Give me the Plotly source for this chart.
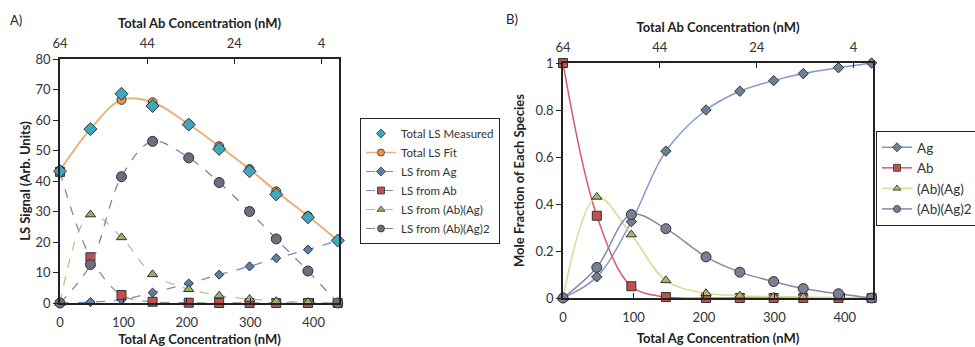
import plotly.graph_objects as go

# ---------------- data ----------------
ag_conc = [0, 48, 97, 146, 203, 251, 299, 341, 391, 438]
ab_ticks = [64, 44, 24, 4]

# Panel A: light-scattering signals
ls_measured = [43.2, 57.0, 68.6, 64.6, 58.5, 50.5, 43.2, 35.6, 28.1, 20.5]
ls_fit = [43.5, 57.0, 66.6, 65.8, 58.6, 51.4, 43.9, 36.6, 28.5, 20.5]
ls_ag = [0.0, 0.3, 1.1, 3.4, 6.4, 9.3, 12.0, 14.7, 17.5, 20.5]
ls_ab = [43.0, 15.0, 2.6, 0.4, 0.1, 0.0, 0.0, 0.0, 0.0, 0.0]
ls_abag = [0.0, 29.0, 21.5, 9.4, 4.5, 2.4, 1.3, 0.6, 0.3, 0.0]
ls_abag2 = [0.0, 12.6, 41.4, 53.0, 47.6, 39.5, 30.0, 21.0, 10.5, 0.0]

# Panel B: mole fractions
mf_ag = [0.0, 0.09, 0.325, 0.625, 0.80, 0.88, 0.925, 0.955, 0.98, 1.0]
mf_ab = [1.0, 0.35, 0.05, 0.004, 0.0, 0.0, 0.0, 0.0, 0.0, 0.0]
mf_abag = [0.0, 0.43, 0.27, 0.075, 0.02, 0.01, 0.006, 0.004, 0.002, 0.0]
mf_abag2 = [0.0, 0.13, 0.355, 0.295, 0.175, 0.11, 0.07, 0.04, 0.018, 0.0]

FONT = "Lato"
OUT = dict(color="#333333", width=1)

fig = go.Figure()


def series(x, y, name, legend, rank, line, marker, xa, ya, mode="lines+markers", legend_marker_size=7,
           legend_line=None):
    # real trace (not in legend)
    fig.add_trace(go.Scatter(x=x, y=y, name=name, mode=mode, line=line, marker=marker,
                             xaxis=xa, yaxis=ya, showlegend=False, cliponaxis=False))
    # legend entry with small symbol
    lm = dict(marker)
    lm["size"] = legend_marker_size
    lm["line"] = dict(color="#333333", width=0.8)
    fig.add_trace(go.Scatter(x=[None], y=[None], name=name, mode=mode,
                             line=legend_line if legend_line else line, marker=lm,
                             xaxis=xa, yaxis=ya, legend=legend, legendrank=rank, showlegend=True))


# ---------------- Panel A ----------------
series(ag_conc, ls_fit, "Total LS Fit", "legend", 2,
       dict(color="#EBB07E", width=2, shape="spline", smoothing=1),
       dict(symbol="circle", size=9, color="#E8964E", line=OUT), "x", "y",
       legend_line=dict(color="#EBB07E", width=1.5))
series(ag_conc, ls_ag, "LS from Ag", "legend", 3,
       dict(color="#6F8DBF", width=1.3, dash="dash", shape="spline"),
       dict(symbol="diamond", size=7, color="#5B80B0", line=OUT), "x", "y",
       legend_line=dict(color="#6F8DBF", width=1, dash="dash"))
series(ag_conc, ls_ab, "LS from Ab", "legend", 4,
       dict(color="#8A8A98", width=1.3, dash="dash", shape="spline"),
       dict(symbol="square", size=9, color="#C0504D", line=OUT), "x", "y",
       legend_line=dict(color="#8A8A98", width=1, dash="dash"))
series(ag_conc, ls_abag, "LS from (Ab)(Ag)", "legend", 5,
       dict(color="#B8C08A", width=1.3, dash="dash", shape="spline"),
       dict(symbol="triangle-up", size=9, color="#9EAF6C", line=OUT), "x", "y",
       legend_line=dict(color="#B8C08A", width=1, dash="dash"))
series(ag_conc, ls_abag2, "LS from (Ab)(Ag)2", "legend", 6,
       dict(color="#7E8496", width=1.3, dash="dash", shape="spline"),
       dict(symbol="circle", size=10, color="#6C6E80", line=OUT), "x", "y",
       legend_line=dict(color="#7E8496", width=1, dash="dash"))
series(ag_conc, ls_measured, "Total LS Measured", "legend", 1,
       dict(color="#3FA8C0"),
       dict(symbol="diamond", size=10, color="#3FA8C0", line=OUT), "x", "y", mode="markers")

# ---------------- Panel B ----------------
series(ag_conc, mf_ag, "Ag", "legend2", 1,
       dict(color="#8397D0", width=1.5, shape="spline"),
       dict(symbol="diamond", size=8, color="#6C8098", line=OUT), "x2", "y2",
       legend_line=dict(color="#6FA0A8", width=1.5))
series(ag_conc, mf_ab, "Ab", "legend2", 2,
       dict(color="#D65A6E", width=1.5, shape="spline"),
       dict(symbol="square", size=9, color="#C0504D", line=OUT), "x2", "y2")
series(ag_conc, mf_abag, "(Ab)(Ag)", "legend2", 3,
       dict(color="#D6DC92", width=1.5, shape="spline"),
       dict(symbol="triangle-up", size=9, color="#A8BA6A", line=OUT), "x2", "y2")
series(ag_conc, mf_abag2, "(Ab)(Ag)2", "legend2", 4,
       dict(color="#8A86AE", width=1.5, shape="spline"),
       dict(symbol="circle", size=10, color="#7C7D96", line=OUT), "x2", "y2")

# invisible carriers so the top (Ab concentration) axes are drawn
for xa, ya in (("x3", "y"), ("x4", "y2")):
    fig.add_trace(go.Scatter(x=ab_ticks, y=[0] * len(ab_ticks), mode="markers",
                             marker=dict(opacity=0), hoverinfo="skip", showlegend=False,
                             xaxis=xa, yaxis=ya))

W, H = 975, 347
axA = [60 / W, 339 / W]
ayA = [1 - 303 / H, 1 - 59 / H]
axB = [563 / W, 873 / W]
ayB = [1 - 298 / H, 1 - 63 / H]

tickfont = dict(family=FONT, size=13, color="#333333")
titlefont = dict(family=FONT, size=13, color="#222222")


def xbottom(domain, anchor):
    return dict(domain=domain, anchor=anchor, range=[0, 440], tickvals=[0, 100, 200, 300, 400],
                showline=True, linecolor="#222222", linewidth=1.5, ticks="inside", ticklen=5,
                tickcolor="#222222", showgrid=False, zeroline=False, tickfont=tickfont,
                ticklabelstandoff=7,
                title=dict(text="<b>Total Ag Concentration (nM)</b>", font=titlefont, standoff=10))


def xtop(overlay, anchor):
    return dict(overlaying=overlay, anchor=anchor, side="top", range=[64, 0], tickvals=ab_ticks,
                showline=True, linecolor="#222222", linewidth=1.5, ticks="inside", ticklen=5,
                tickcolor="#222222", showgrid=False, zeroline=False, tickfont=tickfont,
                ticklabelstandoff=4,
                title=dict(text="<b>Total Ab Concentration (nM)</b>", font=titlefont, standoff=3))


def yleft(domain, anchor, rng, dtick, title, standoff):
    return dict(domain=domain, anchor=anchor, range=rng, dtick=dtick, showline=True,
                linecolor="#222222", linewidth=1.5, mirror=True, ticks="outside", ticklen=5,
                tickcolor="#222222", showgrid=False, zeroline=False, tickfont=tickfont,
                title=dict(text="<b>" + title + "</b>", font=titlefont, standoff=standoff))


fig.update_layout(
    width=W, height=H, margin=dict(l=0, r=0, t=0, b=0, autoexpand=False),
    paper_bgcolor="white", plot_bgcolor="white",
    font=dict(family=FONT, color="#333333"),
    xaxis=xbottom(axA, "y"),
    yaxis=yleft(ayA, "x", [0, 80], 10, "LS Signal (Arb. Units)", 2),
    xaxis2=xbottom(axB, "y2"),
    yaxis2=yleft(ayB, "x2", [0, 1], 0.2, "Mole Fraction of Each Species", 8),
    xaxis3=xtop("x", "y"),
    xaxis4=xtop("x2", "y2"),
    legend=dict(x=360 / W, y=1 - 118 / H, xanchor="left", yanchor="top",
                bordercolor="#222222", borderwidth=1, bgcolor="white",
                font=dict(family=FONT, size=11.5, color="#333333"), tracegroupgap=0,
                itemwidth=30),
    legend2=dict(x=876 / W, y=1 - 131 / H, xanchor="left", yanchor="top",
                 bordercolor="#222222", borderwidth=1, bgcolor="white",
                 font=dict(family=FONT, size=13.5, color="#333333"), tracegroupgap=0,
                 itemwidth=30),
    showlegend=True,
    annotations=[
        dict(text="A)", x=8 / W, y=1 - 10 / H, xref="paper", yref="paper", xanchor="left",
             yanchor="top", showarrow=False, font=dict(family=FONT, size=13, color="#222222")),
        dict(text="B)", x=504 / W, y=1 - 9 / H, xref="paper", yref="paper", xanchor="left",
             yanchor="top", showarrow=False, font=dict(family=FONT, size=13, color="#222222")),
    ],
)

fig.write_html("out.html")
